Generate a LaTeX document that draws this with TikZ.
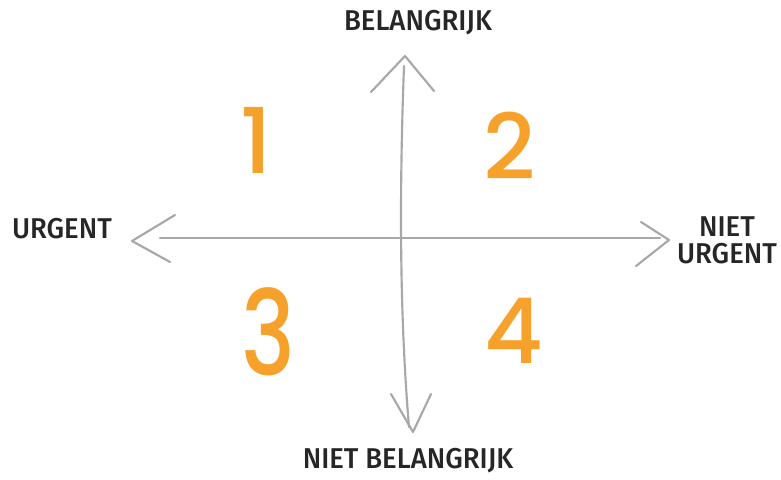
\documentclass[tikz,border=0pt]{standalone}
\usepackage{fontspec}
\newfontfamily\hand[FakeStretch=0.96]{Fira Sans Medium}
\newfontfamily\numfont{Poppins Medium}
\definecolor{axisgray}{HTML}{A8A8A8}
\definecolor{numorange}{HTML}{F5A12C}
\tikzset{
  axis/.style={draw=axisgray, line width=1.6pt, line cap=round, line join=round},
  lbl/.style={font=\hand\fontsize{21.5}{20}\selectfont, text=black!85, inner sep=0pt, align=center},
  num/.style={font=\numfont\fontsize{68}{68}\selectfont, text=numorange, inner sep=0pt}
}
\begin{document}
\begin{tikzpicture}[x=0.75pt,y=-0.75pt]
\useasboundingbox[fill=white] (0,0) rectangle (781,479);
% labels
\node[lbl] (top) at (418,23) {BELANGRIJK};
\node[lbl] (bot) at (408,461) {NIET BELANGRIJK};
\node[lbl] (left) at (62,229) {URGENT};
\node[lbl] (right) at (727,240) {NIET\\URGENT};
% numbers
\node[num] (n1) at (256,140) {1};
\node[num] (n2) at (510,146) {2};
\node[num] (n3) at (268,332) {\scalebox{1}[1.3]{3}};
\node[num] (n4) at (514,331) {4};
% axis points
\coordinate (vtop) at (404,66);
\coordinate (vbot) at (409,427);
\coordinate (ttip) at (405,56);
\coordinate (tl) at (371,92);
\coordinate (tr) at (434,91);
\coordinate (btip) at (413,432);
\coordinate (bl) at (391,394);
\coordinate (br) at (431,394);
\coordinate (hleft) at (160,238);
\coordinate (hright) at (660,238);
\coordinate (ltip) at (132,241);
\coordinate (lu) at (175,215);
\coordinate (ld) at (170,262);
\coordinate (rtip) at (669,240);
\coordinate (ru) at (641,222);
\coordinate (rd) at (636,266);
% axes
\draw[axis] (vtop) .. controls (399,200) and (400,320) .. (vbot);
\draw[axis] (hleft) -- (hright);
\draw[axis] (tl) -- (ttip) -- (tr);
\draw[axis] (bl) -- (btip) -- (br);
\draw[axis] (lu) -- (ltip) -- (ld);
\draw[axis] (ru) -- (rtip) -- (rd);
\end{tikzpicture}
\end{document}
